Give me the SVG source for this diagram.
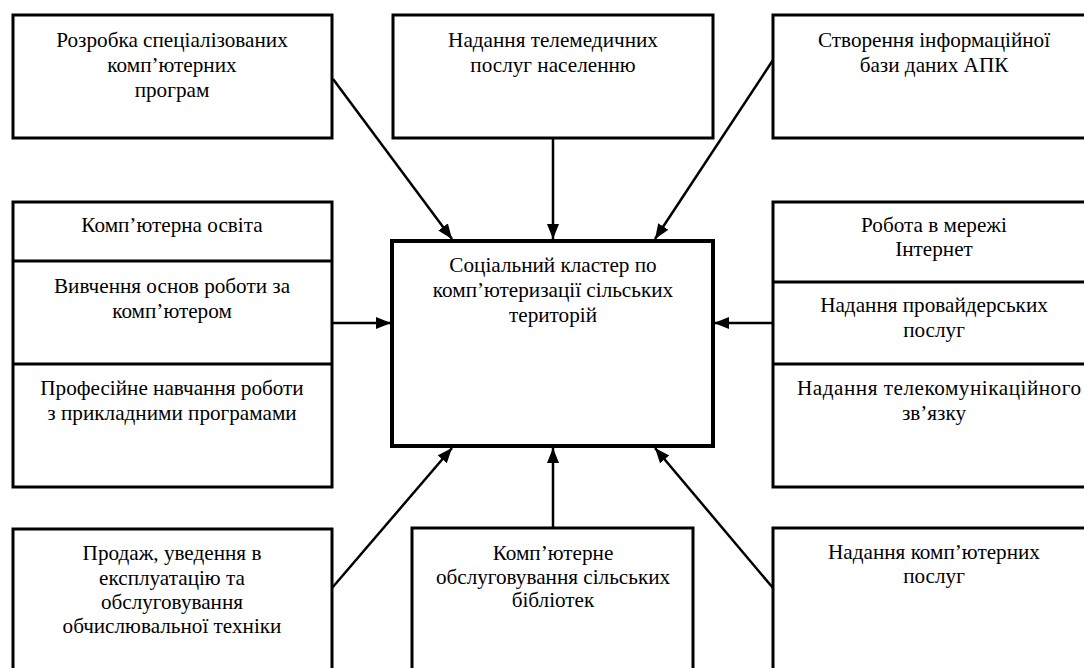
<svg xmlns="http://www.w3.org/2000/svg" width="1084" height="668" viewBox="0 0 1084 668">
<defs>
<style>
.box{fill:#fff;stroke:#000;stroke-width:3}
.main{fill:#fff;stroke:#000;stroke-width:4}
.div{stroke:#000;stroke-width:3}
.con{stroke:#000;stroke-width:2.5;fill:none;marker-end:url(#ah)}
.t{font-family:'Liberation Serif','Times New Roman','DejaVu Serif',serif;font-size:21.2px;fill:#000;text-anchor:middle}
</style>
<marker id="ah" markerUnits="userSpaceOnUse" markerWidth="16" markerHeight="14" refX="15" refY="6" orient="auto">
<path d="M0,0 L15,6 L0,12 Z" fill="#000"/>
</marker>
</defs>
<rect width="1084" height="668" fill="#fff"/>
<g id="connectors">
<line class="con" x1="333" y1="79" x2="452" y2="239"/>
<line class="con" x1="553" y1="138" x2="553" y2="239"/>
<line class="con" x1="773" y1="60" x2="655" y2="239"/>
<line class="con" x1="332" y1="323" x2="391" y2="323"/>
<line class="con" x1="773" y1="323" x2="714" y2="323"/>
<line class="con" x1="332" y1="588" x2="452" y2="448"/>
<line class="con" x1="553" y1="528" x2="553" y2="448"/>
<line class="con" x1="773" y1="588" x2="655" y2="448"/>
</g>
<g id="n-top-left" class="t">
<rect class="box" x="13" y="15" width="319" height="123"/>
<text x="172" y="47">Розробка спеціалізованих</text>
<text x="172" y="72">комп’ютерних</text>
<text x="172" y="97">програм</text>
</g>
<g id="n-top-mid" class="t">
<rect class="box" x="393" y="15" width="320" height="123"/>
<text x="553" y="47">Надання телемедичних</text>
<text x="553" y="72">послуг населенню</text>
</g>
<g id="n-top-right" class="t">
<rect class="box" x="773" y="15" width="322" height="123"/>
<text x="934" y="47">Створення інформаційної</text>
<text x="934" y="72">бази даних АПК</text>
</g>
<g id="n-left" class="t">
<rect class="box" x="13" y="202" width="319" height="285"/>
<line class="div" x1="13" y1="261" x2="332" y2="261"/>
<line class="div" x1="13" y1="364" x2="332" y2="364"/>
<text x="172" y="232">Комп’ютерна освіта</text>
<text x="172" y="293">Вивчення основ роботи за</text>
<text x="172" y="318">комп’ютером</text>
<text x="172" y="395">Професійне навчання роботи</text>
<text x="172" y="420">з прикладними програмами</text>
</g>
<g id="n-center" class="t">
<rect class="main" x="392" y="241" width="321" height="205"/>
<text x="553" y="272">Соціальний кластер по</text>
<text x="553" y="297">комп’ютеризації сільських</text>
<text x="553" y="322">територій</text>
</g>
<g id="n-right" class="t">
<rect class="box" x="773" y="202" width="322" height="285"/>
<line class="div" x1="773" y1="282" x2="1095" y2="282"/>
<line class="div" x1="773" y1="364" x2="1095" y2="364"/>
<text x="934" y="232">Робота в мережі</text>
<text x="934" y="256">Інтернет</text>
<text x="934" y="312">Надання провайдерських</text>
<text x="934" y="337">послуг</text>
<text x="939" y="395" textLength="284" lengthAdjust="spacing">Надання телекомунікаційного</text>
<text x="934" y="420">зв’язку</text>
</g>
<g id="n-bottom-left" class="t">
<rect class="box" x="13" y="529" width="319" height="160"/>
<text x="172" y="560">Продаж, уведення в</text>
<text x="172" y="585">експлуатацію та</text>
<text x="172" y="609">обслуговування</text>
<text x="172" y="633">обчислювальної техніки</text>
</g>
<g id="n-bottom-mid" class="t">
<rect class="box" x="412" y="528" width="281" height="160"/>
<text x="553" y="560">Комп’ютерне</text>
<text x="553" y="584">обслуговування сільських</text>
<text x="553" y="607">бібліотек</text>
</g>
<g id="n-bottom-right" class="t">
<rect class="box" x="773" y="528" width="322" height="160"/>
<text x="934" y="559">Надання комп’ютерних</text>
<text x="934" y="583">послуг</text>
</g>
</svg>
